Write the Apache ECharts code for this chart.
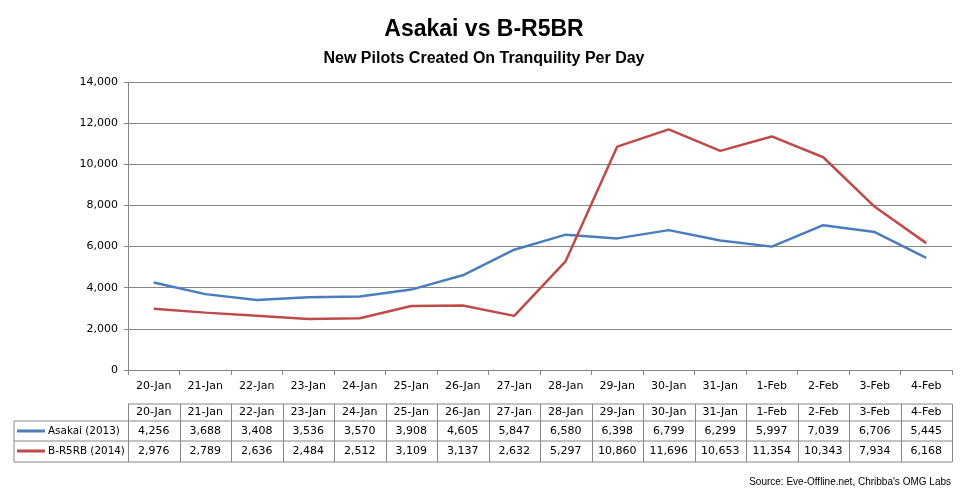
<!DOCTYPE html>
<html>
<head>
<meta charset="utf-8">
<title>Asakai vs B-R5BR</title>
<script src="https://cdn.jsdelivr.net/npm/echarts@6/dist/echarts.min.js"></script>
<style>
  html, body { margin: 0; padding: 0; background: #fff; }
  #chart { width: 968px; height: 495px; }
</style>
</head>
<body>
<div id="chart"></div>
<script>
// data
var days = ["20-Jan", "21-Jan", "22-Jan", "23-Jan", "24-Jan", "25-Jan", "26-Jan", "27-Jan",
            "28-Jan", "29-Jan", "30-Jan", "31-Jan", "1-Feb", "2-Feb", "3-Feb", "4-Feb"];
var asakai = [4256, 3688, 3408, 3536, 3570, 3908, 4605, 5847, 6580, 6398, 6799, 6299, 5997, 7039, 6706, 5445];
var br5rb = [2976, 2789, 2636, 2484, 2512, 3109, 3137, 2632, 5297, 10860, 11696, 10653, 11354, 10343, 7934, 6168];
var yTicks = [0, 2000, 4000, 6000, 8000, 10000, 12000, 14000];

var seriesNames = ["Asakai (2013)", "B-R5RB (2014)"];
var blue = "#4a7ebb";
var red = "#be4b48";
var grey = "#868686";
var labelFont = "'DejaVu Sans', Verdana, sans-serif";
var titleFont = "'Liberation Sans', Arial, sans-serif";

function fmt(v) { return v.toLocaleString("en-US"); }

var chart = echarts.init(document.getElementById("chart"));

// plot area in px
var L = 128, R = 952, T = 82, B = 370;
var colW = (R - L) / days.length;

// table rows (y in px)
var tTop = 404, tHead = 421, tMid = 441, tBot = 462, tLeft = 14;

// table borders
var borders = [];
function hline(x1, x2, y) {
  borders.push({ type: "line", silent: true, shape: { x1: x1, y1: y, x2: x2, y2: y },
                 style: { stroke: grey, lineWidth: 1 } });
}
function vline(x, y1, y2) {
  borders.push({ type: "line", silent: true, shape: { x1: x, y1: y1, x2: x, y2: y2 },
                 style: { stroke: grey, lineWidth: 1 } });
}
hline(L, R, tTop);
hline(tLeft, R, tHead);
hline(tLeft, R, tMid);
hline(tLeft, R, tBot);
vline(tLeft, tHead, tBot);
for (var i = 0; i <= days.length; i++) {
  vline(Math.round(L + i * colW) + 0.5, tTop, tBot);
}
borders.push({
  type: "text", right: 17, top: 477, silent: true,
  style: { text: "Source: Eve-Offline.net, Chribba's OMG Labs", fill: "#000",
           font: "10px 'Liberation Sans', Arial, sans-serif" }
});

function tableAxis(offset, formatter) {
  return {
    type: "category", data: days, position: "bottom", offset: offset,
    axisLine: { show: false }, axisTick: { show: false },
    axisLabel: { interval: 0, margin: 0, verticalAlign: "middle", color: "#000",
                 fontSize: 11, fontFamily: labelFont, formatter: formatter }
  };
}

var option = {
  animation: false,
  title: [
    {
      text: "Asakai vs B-R5BR", left: "center", top: 13,
      textStyle: { fontFamily: titleFont, fontWeight: "bold", fontSize: 23, color: "#000" }
    },
    {
      text: "New Pilots Created On Tranquility Per Day", left: "center", top: 46,
      textStyle: { fontFamily: titleFont, fontWeight: "bold", fontSize: 16, color: "#000" }
    }
  ],
  legend: {
    orient: "vertical", left: 17, top: 424, padding: 0,
    itemWidth: 28, itemHeight: 3, itemGap: 6, icon: "rect",
    data: seriesNames,
    textStyle: { fontSize: 10.4, fontFamily: labelFont, color: "#000", lineHeight: 14, padding: [0, 0, 0, -2] }
  },
  grid: { left: L, right: 968 - R, top: T, bottom: 495 - B, containLabel: false },
  xAxis: [
    {
      type: "category", data: days, boundaryGap: true,
      axisLine: { lineStyle: { color: grey, width: 1 } },
      axisTick: { show: true, length: 5, lineStyle: { color: grey } },
      axisLabel: { interval: 0, margin: 11, color: "#000", fontSize: 11, fontFamily: labelFont }
    },
    tableAxis(42.5, function (v) { return v; }),
    tableAxis(61, function (v, idx) { return fmt(asakai[idx]); }),
    tableAxis(81.5, function (v, idx) { return fmt(br5rb[idx]); })
  ],
  yAxis: {
    type: "value", min: yTicks[0], max: yTicks[yTicks.length - 1],
    interval: yTicks[1] - yTicks[0],
    axisLine: { show: true, lineStyle: { color: grey, width: 1 } },
    axisTick: { show: true, length: 4, lineStyle: { color: grey } },
    splitLine: { lineStyle: { color: grey, width: 1 } },
    axisLabel: { margin: 10, color: "#000", fontSize: 11, fontFamily: labelFont,
                 formatter: function (v) { return fmt(v); } }
  },
  series: [
    {
      name: seriesNames[0], type: "line", data: asakai, symbol: "none",
      lineStyle: { color: blue, width: 2.5 }, itemStyle: { color: blue }
    },
    {
      name: seriesNames[1], type: "line", data: br5rb, symbol: "none",
      lineStyle: { color: red, width: 2.5 }, itemStyle: { color: red }
    }
  ],
  graphic: borders
};

chart.setOption(option);
</script>
</body>
</html>
